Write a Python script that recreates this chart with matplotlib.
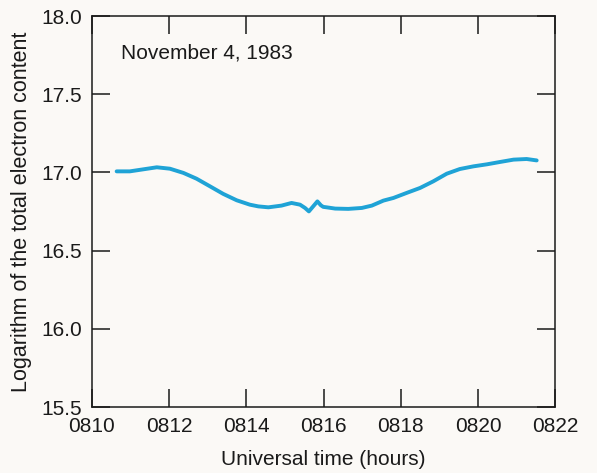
import numpy as np
from matplotlib import pyplot as plt
from matplotlib.ticker import FuncFormatter

# time in minutes past 08:00 UT, log10 of total electron content
minutes = [10.64, 10.98, 11.33, 11.68, 12.02, 12.37, 12.71, 13.06, 13.40, 13.75,
           14.09, 14.31, 14.57, 14.91, 15.17, 15.39, 15.52, 15.62, 15.73, 15.84,
           15.93, 15.99, 16.08, 16.30, 16.64, 16.99, 17.25, 17.55, 17.81, 18.15,
           18.50, 18.84, 19.19, 19.53, 19.88, 20.23, 20.57, 20.92, 21.26, 21.52]
log_tec = [17.007, 17.007, 17.020, 17.033, 17.024, 16.997, 16.960, 16.911, 16.863, 16.822,
           16.794, 16.783, 16.777, 16.788, 16.805, 16.794, 16.773, 16.751, 16.783, 16.815,
           16.790, 16.780, 16.777, 16.769, 16.767, 16.773, 16.788, 16.820, 16.837, 16.869,
           16.901, 16.943, 16.992, 17.022, 17.039, 17.052, 17.067, 17.082, 17.086, 17.077]

xticks = [10, 12, 14, 16, 18, 20, 22]
yticks = [15.5, 16.0, 16.5, 17.0, 17.5, 18.0]

plt.rcParams['font.family'] = ['Liberation Sans', 'DejaVu Sans']
bg = '#fbf9f6'
ink = '#1a1a1a'

fig = plt.figure(figsize=(5.97, 4.73), dpi=100, facecolor=bg)
ax = fig.add_axes([0.154, 0.1395, 0.776, 0.8265], facecolor=bg)

ax.plot(minutes, log_tec, color='#1fa3d6', lw=2.8, solid_joinstyle='round',
        solid_capstyle='round')

ax.set_xlim(10, 22)
ax.set_ylim(15.5, 18.0)
ax.set_xticks(xticks)
ax.set_yticks(yticks)
ax.xaxis.set_major_formatter(FuncFormatter(lambda v, p: '08%02d' % int(round(v))))
ax.yaxis.set_major_formatter(FuncFormatter(lambda v, p: '%.1f' % v))

ax.tick_params(direction='in', length=13, width=1.1, top=True, right=True,
               labelsize=15, colors=ink)
ax.tick_params(axis='x', pad=7)
ax.tick_params(axis='y', pad=7)
for s in ax.spines.values():
    s.set_linewidth(1.1)
    s.set_color(ink)

ax.set_xlabel('Universal time (hours)', fontsize=15, labelpad=10, color=ink)
ax.set_ylabel('Logarithm of the total electron content', fontsize=15.5,
              labelpad=7, color=ink)
ax.text(0.062, 0.905, 'November 4, 1983', transform=ax.transAxes,
        fontsize=15, color=ink, va='center')

fig.savefig('out.png', dpi=100, facecolor=bg)
